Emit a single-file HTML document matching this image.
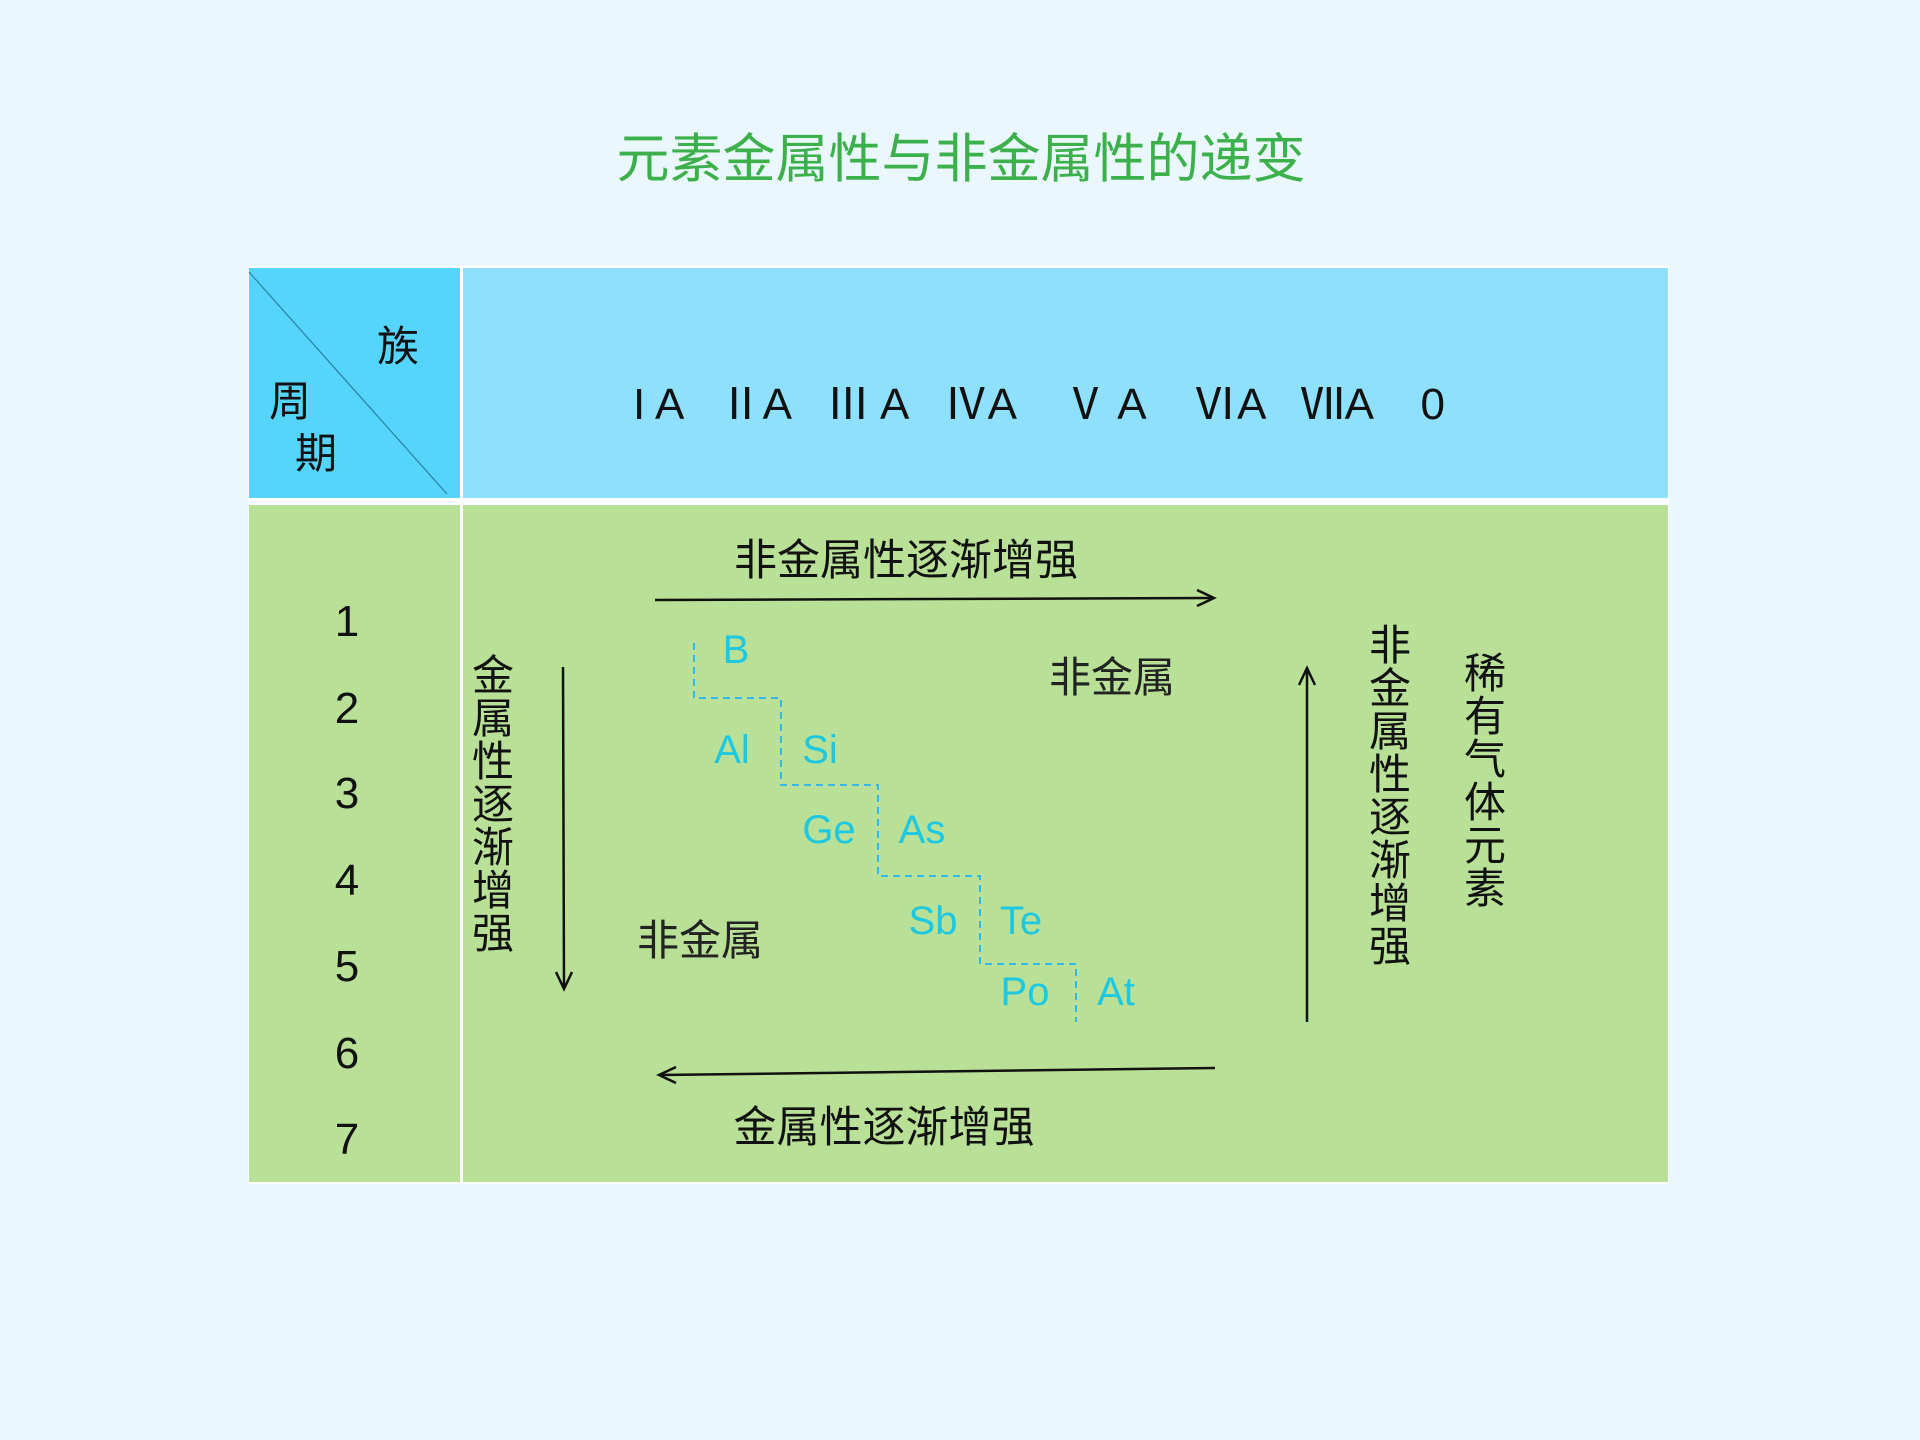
<!DOCTYPE html>
<html><head><meta charset="utf-8"><style>
html,body{margin:0;padding:0;background:#eaf8fd;}
svg{display:block}
text{font-family:"Liberation Sans","Noto Sans CJK SC",sans-serif;}
</style></head><body>
<svg width="1920" height="1440" viewBox="0 0 1920 1440" xmlns="http://www.w3.org/2000/svg">
<rect width="1920" height="1440" fill="#eaf8fd"/>
<text x="961" y="177" font-size="53" fill="#3cb04a" text-anchor="middle">元素金属性与非金属性的递变</text>
<rect x="248" y="266" width="1421" height="918" fill="#ffffff"/>
<rect x="249" y="268" width="211" height="230" fill="#55d4fc"/>
<rect x="463" y="268" width="1205" height="230" fill="#8ee0fc"/>
<rect x="249" y="505" width="211" height="677" fill="#b8e096"/>
<rect x="463" y="505" width="1205" height="677" fill="#b8e096"/>
<line x1="249" y1="272" x2="447" y2="494" stroke="#2a7fa0" stroke-width="1.2"/>
<g font-size="42" fill="#111">
<text x="398" y="361" text-anchor="middle">族</text>
<text x="290" y="416" text-anchor="middle">周</text>
<text x="316" y="468" text-anchor="middle">期</text>
<text x="1039" y="419" text-anchor="middle" font-size="44" xml:space="preserve">I A   ⅡA   Ⅲ A   ⅣA    Ⅴ A    ⅥA   ⅦA    0</text>
</g>
<g font-size="44" fill="#111" text-anchor="middle">
<text x="347" y="636">1</text><text x="347" y="723">2</text><text x="347" y="808">3</text>
<text x="347" y="895">4</text><text x="347" y="981">5</text><text x="347" y="1068">6</text><text x="347" y="1154">7</text>
</g>
<g font-size="43" fill="#111">
<text x="906" y="575" text-anchor="middle">非金属性逐渐增强</text>
<text x="884" y="1142" text-anchor="middle">金属性逐渐增强</text>
</g>
<g font-size="42" fill="#222" text-anchor="middle">
<text x="1112" y="692">非金属</text>
<text x="700" y="955">非金属</text>
</g>
<g font-size="42" fill="#111" text-anchor="middle">
<text x="493" y="690">金</text><text x="493" y="733">属</text><text x="493" y="776">性</text><text x="493" y="819">逐</text><text x="493" y="862">渐</text><text x="493" y="905">增</text><text x="493" y="948">强</text>
<text x="1390" y="660">非</text><text x="1390" y="703">金</text><text x="1390" y="746">属</text><text x="1390" y="789">性</text><text x="1390" y="832">逐</text><text x="1390" y="875">渐</text><text x="1390" y="918">增</text><text x="1390" y="961">强</text>
<text x="1485" y="688">稀</text><text x="1485" y="731">有</text><text x="1485" y="774">气</text><text x="1485" y="817">体</text><text x="1485" y="860">元</text><text x="1485" y="903">素</text>
</g>
<g stroke="#111" stroke-width="2.5" fill="none">
<line x1="655" y1="600" x2="1213" y2="598"/><polyline points="1197,590 1214,598 1197,606"/>
<line x1="1215" y1="1068" x2="660" y2="1075"/><polyline points="676,1067 659,1075 676,1083"/>
<line x1="563" y1="667" x2="564" y2="988"/><polyline points="556,972 564,989 572,972"/>
<line x1="1307" y1="1022" x2="1307" y2="669"/><polyline points="1299,685 1307,668 1315,685"/>
</g>
<polyline points="694,643 694,698 781,698 781,785 878,785 878,876 980,876 980,964 1076,964 1076,1022" fill="none" stroke="#30b8e8" stroke-width="2" stroke-dasharray="7,5"/>
<g font-size="40" fill="#1ec8e0" text-anchor="middle">
<text x="736" y="663">B</text>
<text x="732" y="763">Al</text><text x="820" y="763">Si</text>
<text x="829" y="843">Ge</text><text x="922" y="843">As</text>
<text x="933" y="934">Sb</text><text x="1021" y="934">Te</text>
<text x="1025" y="1005">Po</text><text x="1116" y="1005">At</text>
</g>
</svg>
</body></html>
